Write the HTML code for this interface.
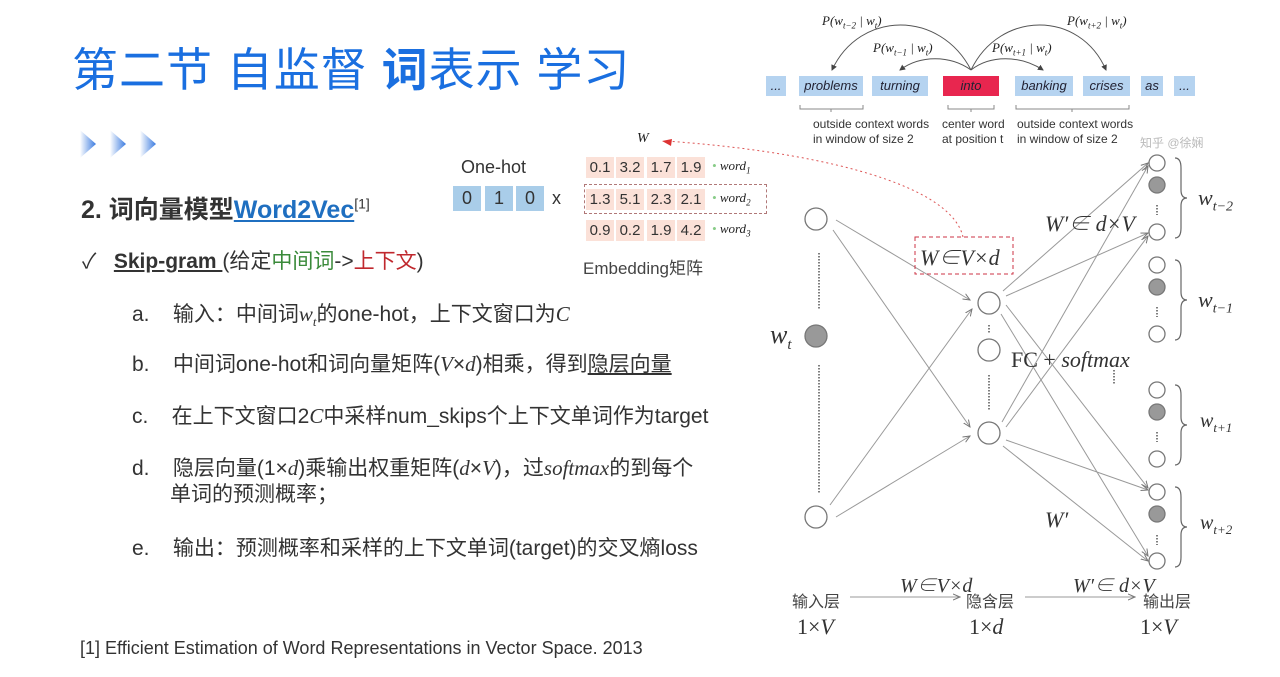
<!DOCTYPE html>
<html><head><meta charset="utf-8"><style>
body{margin:0;width:1280px;height:677px;background:#fff;position:relative;overflow:hidden;font-family:"Liberation Sans","Noto Sans CJK SC",sans-serif;color:#222}
.a{position:absolute;white-space:nowrap}
.it{font-family:"Liberation Serif","Noto Serif CJK SC",serif;font-style:italic}
.m{font-family:"Liberation Serif",serif;font-style:italic}
.box{position:absolute;background:#b5d3f0;color:#223;font-style:italic;font-size:13px;text-align:center;line-height:20px;height:20px}
.cell{position:absolute;background:#fbe1d8;width:28px;height:21px;font-size:15px;text-align:center;line-height:21px;color:#333}
.oh{position:absolute;background:#a9cde9;width:28px;height:25px;font-size:18px;text-align:center;line-height:25px;top:186px;color:#333}
.li{position:absolute;white-space:nowrap;font-size:21px;color:#333}
</style></head><body>
<div class="a" style="left:72px;top:34px;font-size:46px;color:#1a6fe0;letter-spacing:1px">第二节 自监督 <b>词</b>表示 学习</div>
<svg class="a" style="left:80px;top:128px" width="82" height="32"><defs><linearGradient id="g"><stop offset="0" stop-color="#fff"/><stop offset="1" stop-color="#3b7be0"/></linearGradient></defs><polygon points="0,2 16,16 0,30" fill="url(#g)"/><polygon points="30,2 46,16 30,30" fill="url(#g)"/><polygon points="60,2 76,16 60,30" fill="url(#g)"/></svg>
<div class="a" style="left:81px;top:190px;font-size:25px;font-weight:bold;color:#333">2. 词向量模型<span style="color:#1f6fc0;text-decoration:underline">Word2Vec</span><sup style="font-size:14px;font-weight:normal">[1]</sup></div>
<div class="a" style="left:82px;top:245px;font-size:21px;color:#333">✓&nbsp;&nbsp; <b style="text-decoration:underline">Skip-gram </b>(给定<span style="color:#3a8a3a">中间词</span>-><span style="color:#c0282e">上下文</span>)</div>
<div class="li" style="left:132px;top:298px">a.&nbsp;&nbsp;&nbsp; 输入：中间词<span class="m">w<sub style="font-size:13px">t</sub></span>的one-hot，上下文窗口为<span class="m">C</span></div>
<div class="li" style="left:132px;top:348px">b.&nbsp;&nbsp;&nbsp; 中间词one-hot和词向量矩阵(<span class="m">V</span>×<span class="m">d</span>)相乘，得到<u>隐层向量</u></div>
<div class="li" style="left:132px;top:400px">c.&nbsp;&nbsp;&nbsp; 在上下文窗口2<span class="m">C</span>中采样num_skips个上下文单词作为target</div>
<div class="li" style="left:132px;top:452px">d.&nbsp;&nbsp;&nbsp; 隐层向量(1×<span class="m">d</span>)乘输出权重矩阵(<span class="m">d</span>×<span class="m">V</span>)，过<span class="m">softmax</span>的到每个</div>
<div class="li" style="left:170px;top:478px">单词的预测概率；</div>
<div class="li" style="left:132px;top:532px">e.&nbsp;&nbsp;&nbsp; 输出：预测概率和采样的上下文单词(target)的交叉熵loss</div>
<div class="a" style="left:80px;top:638px;font-size:18px;color:#333">[1] Efficient Estimation of Word Representations in Vector Space. 2013</div>

<div class="a" style="left:461px;top:157px;font-size:18px;color:#333">One-hot</div>
<div class="oh" style="left:453px">0</div><div class="oh" style="left:485px">1</div><div class="oh" style="left:516px">0</div>
<div class="a" style="left:552px;top:188px;font-size:18px;color:#333">x</div>
<div class="cell" style="left:586px;top:157px">0.1</div><div class="cell" style="left:616px;top:157px">3.2</div><div class="cell" style="left:647px;top:157px">1.7</div><div class="cell" style="left:677px;top:157px">1.9</div>
<div class="cell" style="left:586px;top:189px">1.3</div><div class="cell" style="left:616px;top:189px">5.1</div><div class="cell" style="left:647px;top:189px">2.3</div><div class="cell" style="left:677px;top:189px">2.1</div>
<div class="cell" style="left:586px;top:220px">0.9</div><div class="cell" style="left:616px;top:220px">0.2</div><div class="cell" style="left:647px;top:220px">1.9</div><div class="cell" style="left:677px;top:220px">4.2</div>
<div class="a" style="left:584px;top:184px;width:181px;height:28px;border:1px dashed #b07878"></div>
<div class="a it" style="left:712px;top:158px;font-size:13px"><span style="color:#8c8">•</span> word<sub style="font-size:9px">1</sub></div>
<div class="a it" style="left:712px;top:190px;font-size:13px"><span style="color:#8c8">•</span> word<sub style="font-size:9px">2</sub></div>
<div class="a it" style="left:712px;top:221px;font-size:13px"><span style="color:#8c8">•</span> word<sub style="font-size:9px">3</sub></div>
<div class="a it" style="left:637px;top:131px;font-size:14px">W</div>
<div class="a" style="left:583px;top:254px;font-size:17px;color:#444">Embedding矩阵</div>

<div class="box" style="left:766px;top:76px;width:20px">...</div>
<div class="box" style="left:799px;top:76px;width:64px">problems</div>
<div class="box" style="left:872px;top:76px;width:56px">turning</div>
<div class="box" style="left:943px;top:76px;width:56px;background:#e8264f">into</div>
<div class="box" style="left:1015px;top:76px;width:58px">banking</div>
<div class="box" style="left:1083px;top:76px;width:47px">crises</div>
<div class="box" style="left:1141px;top:76px;width:22px">as</div>
<div class="box" style="left:1174px;top:76px;width:21px">...</div>
<div class="a" style="left:813px;top:117px;font-size:12px;line-height:15px;color:#333">outside context words<br>in window of size 2</div>
<div class="a" style="left:942px;top:117px;font-size:12px;line-height:15px;color:#333">center word<br>at position t</div>
<div class="a" style="left:1017px;top:117px;font-size:12px;line-height:15px;color:#333">outside context words<br>in window of size 2</div>
<div class="a it" style="left:822px;top:13px;font-size:13px">P(w<sub style="font-size:9px">t−2</sub> | w<sub style="font-size:9px">t</sub>)</div>
<div class="a it" style="left:873px;top:40px;font-size:13px">P(w<sub style="font-size:9px">t−1</sub> | w<sub style="font-size:9px">t</sub>)</div>
<div class="a it" style="left:992px;top:40px;font-size:13px">P(w<sub style="font-size:9px">t+1</sub> | w<sub style="font-size:9px">t</sub>)</div>
<div class="a it" style="left:1067px;top:13px;font-size:13px">P(w<sub style="font-size:9px">t+2</sub> | w<sub style="font-size:9px">t</sub>)</div>
<div class="a" style="left:1140px;top:134px;font-size:12px;color:#bbb">知乎 @徐娴</div>

<svg class="a" style="left:0;top:0" width="1280" height="677">
<defs><marker id="ar" markerWidth="8" markerHeight="8" refX="7" refY="4" orient="auto"><path d="M0,1 L7,4 L0,7" fill="none" stroke="#777" stroke-width="1"/></marker>
<marker id="ak" markerWidth="6" markerHeight="6" refX="5" refY="3" orient="auto"><path d="M0,0 L6,3 L0,6z" fill="#444"/></marker></defs>
<g fill="none" stroke="#555" stroke-width="1">
<path d="M971,70 C940,10 860,10 832,70" marker-end="url(#ak)"/>
<path d="M971,70 C950,55 920,55 900,70" marker-end="url(#ak)"/>
<path d="M971,70 C990,55 1020,55 1043,70" marker-end="url(#ak)"/>
<path d="M971,70 C1000,10 1080,10 1106,70" marker-end="url(#ak)"/>
</g>
<g fill="none" stroke="#888" stroke-width="1">
<path d="M800,105 v4 h63 v-4 M831,109 v3 M948,105 v4 h46 v-4 M971,109 v3 M1016,105 v4 h113 v-4 M1072,109 v3"/>
</g>
<path d="M963,237 C950,180 800,150 665,141" fill="none" stroke="#d55" stroke-dasharray="2,3"/>
<path d="M672,139 l-10,2 l9,5z" fill="#d33"/>
<g stroke="#999" stroke-width="1" fill="none" marker-end="url(#ar)">
<line x1="836" y1="220" x2="970" y2="300"/><line x1="833" y1="230" x2="970" y2="427"/>
<line x1="830" y1="505" x2="972" y2="309"/><line x1="836" y1="517" x2="970" y2="436"/>
<line x1="1003" y1="291" x2="1148" y2="163"/><line x1="1006" y1="296" x2="1148" y2="233"/>
<line x1="1006" y1="305" x2="1148" y2="488"/><line x1="1001" y1="314" x2="1148" y2="556"/>
<line x1="1002" y1="422" x2="1148" y2="166"/><line x1="1006" y1="427" x2="1148" y2="236"/>
<line x1="1006" y1="440" x2="1148" y2="490"/><line x1="1003" y1="446" x2="1148" y2="561"/>
<line x1="850" y1="597" x2="960" y2="597"/><line x1="1025" y1="597" x2="1135" y2="597"/>
</g>
<g stroke="#555" stroke-width="1.5" stroke-dasharray="1.5,1.5">
<line x1="819" y1="253" x2="819" y2="310"/><line x1="819" y1="365" x2="819" y2="493"/>
<line x1="989" y1="325" x2="989" y2="333"/><line x1="989" y1="375" x2="989" y2="410"/>
<line x1="1157" y1="205" x2="1157" y2="215"/><line x1="1157" y1="307" x2="1157" y2="317"/>
<line x1="1157" y1="432" x2="1157" y2="442"/><line x1="1157" y1="535" x2="1157" y2="545"/>
<line x1="1114" y1="370" x2="1114" y2="385"/>
</g>
<g stroke="#777" stroke-width="1.3" fill="#fff">
<circle cx="816" cy="219" r="11"/><circle cx="816" cy="517" r="11"/>
<circle cx="816" cy="336" r="11" fill="#999"/>
<circle cx="989" cy="303" r="11"/><circle cx="989" cy="350" r="11"/><circle cx="989" cy="433" r="11"/>
<circle cx="1157" cy="163" r="8"/><circle cx="1157" cy="185" r="8" fill="#999"/><circle cx="1157" cy="232" r="8"/>
<circle cx="1157" cy="265" r="8"/><circle cx="1157" cy="287" r="8" fill="#999"/><circle cx="1157" cy="334" r="8"/>
<circle cx="1157" cy="390" r="8"/><circle cx="1157" cy="412" r="8" fill="#999"/><circle cx="1157" cy="459" r="8"/>
<circle cx="1157" cy="492" r="8"/><circle cx="1157" cy="514" r="8" fill="#999"/><circle cx="1157" cy="561" r="8"/>
</g>
<g stroke="#666" fill="none" stroke-width="1.2">
<path d="M1175,158 q6,0 6,10 v22 q0,8 6,8 q-6,0 -6,8 v22 q0,10 -6,10"/>
<path d="M1175,260 q6,0 6,10 v22 q0,8 6,8 q-6,0 -6,8 v22 q0,10 -6,10"/>
<path d="M1175,385 q6,0 6,10 v22 q0,8 6,8 q-6,0 -6,8 v22 q0,10 -6,10"/>
<path d="M1175,487 q6,0 6,10 v22 q0,8 6,8 q-6,0 -6,8 v22 q0,10 -6,10"/>
</g>
<rect x="915" y="237" width="98" height="37" fill="none" stroke="#c34" stroke-dasharray="4,3"/>
</svg>
<div class="a it" style="left:920px;top:241px;font-size:22px;color:#333">W∈V×d</div>
<div class="a it" style="left:1045px;top:207px;font-size:22px;color:#333">W′∈ d×V</div>
<div class="a" style="left:1011px;top:347px;font-size:22px;color:#333;font-family:'Liberation Serif',serif">FC + <i>softmax</i></div>
<div class="a it" style="left:1045px;top:507px;font-size:22px;color:#333">W′</div>
<div class="a it" style="left:770px;top:320px;font-size:26px;color:#333">w<sub style="font-size:15px">t</sub></div>
<div class="a it" style="left:1198px;top:185px;font-size:22px;color:#333">w<sub style="font-size:14px">t−2</sub></div>
<div class="a it" style="left:1198px;top:287px;font-size:22px;color:#333">w<sub style="font-size:14px">t−1</sub></div>
<div class="a it" style="left:1200px;top:410px;font-size:20px;color:#333">w<sub style="font-size:13px">t+1</sub></div>
<div class="a it" style="left:1200px;top:512px;font-size:20px;color:#333">w<sub style="font-size:13px">t+2</sub></div>
<div class="a" style="left:792px;top:588px;font-size:16px;color:#444">输入层</div>
<div class="a" style="left:966px;top:588px;font-size:16px;color:#444">隐含层</div>
<div class="a" style="left:1143px;top:588px;font-size:16px;color:#444">输出层</div>
<div class="a it" style="left:900px;top:569px;font-size:20px;color:#333">W∈V×d</div>
<div class="a it" style="left:1073px;top:569px;font-size:20px;color:#333">W′∈ d×V</div>
<div class="a" style="left:797px;top:614px;font-size:22px;color:#333;font-family:'Liberation Serif',serif">1×<i>V</i></div>
<div class="a" style="left:969px;top:614px;font-size:22px;color:#333;font-family:'Liberation Serif',serif">1×<i>d</i></div>
<div class="a" style="left:1140px;top:614px;font-size:22px;color:#333;font-family:'Liberation Serif',serif">1×<i>V</i></div>
</body></html>
